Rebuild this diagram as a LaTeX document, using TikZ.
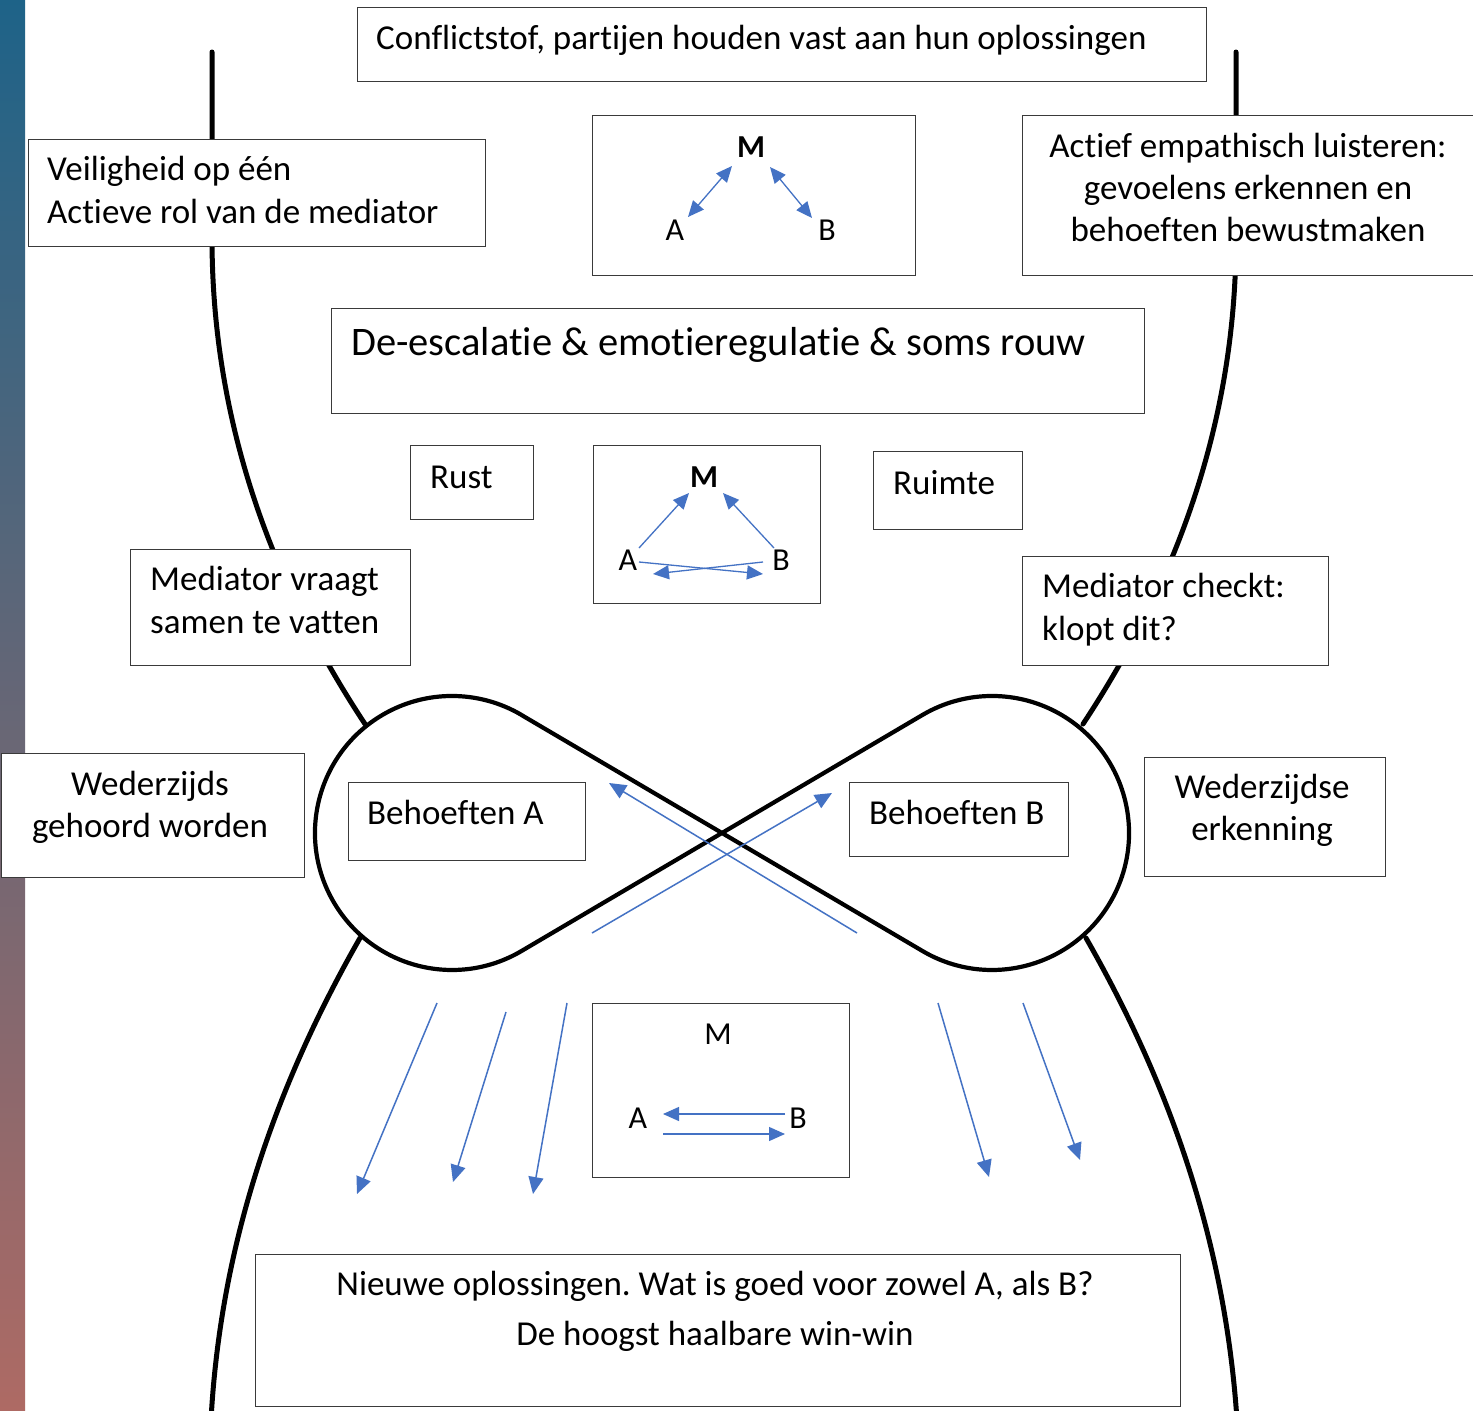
\documentclass[tikz,border=0pt]{standalone}
\usepackage{fontspec}
\setmainfont[Ligatures=NoCommon]{Carlito}
\usetikzlibrary{arrows.meta}
\definecolor{arrblue}{HTML}{4472C4}
\definecolor{boxline}{HTML}{3A3A3A}
\definecolor{gtop}{HTML}{1E6388}
\definecolor{gmid}{HTML}{686480}
\definecolor{gbot}{HTML}{AE6A64}
\begin{document}
\frenchspacing
\begin{tikzpicture}[x=1pt,y=-1pt,
  bx/.style={draw=boxline, line width=1.3pt, fill=white, inner sep=0pt, anchor=north west},
  tx/.style={inner sep=0pt, font=\fontsize{35}{43}\selectfont},
  bigtx/.style={inner sep=0pt, font=\fontsize{40.5}{48}\selectfont},
  lettr/.style={inner sep=0pt, anchor=base, font=\fontsize{32}{36}\selectfont},
  outerline/.style={line width=5pt, black, line cap=round},
  loopline/.style={line width=4.2pt, black, line join=round},
  barr/.style={draw=arrblue, line width=1.5pt, -{Triangle[length=17pt,width=15pt]}},
  tarr/.style={draw=arrblue, line width=1.3pt, -{Triangle[length=16pt,width=14pt]}},
  darr/.style={draw=arrblue, line width=1.3pt, {Triangle[length=16pt,width=14pt]}-{Triangle[length=16pt,width=14pt]}}
]
\useasboundingbox (0,0) rectangle (1473,1411);
\fill[white] (0,0) rectangle (1473,1411);
\shade[top color=gtop, middle color=gmid, bottom color=gbot] (0,0) rectangle (25,1411);

% outer hourglass curves
\draw[outerline] (212,52) -- (212,238) .. controls (212,406) and (262,568) .. (365,724);
\draw[outerline] (1236,52) -- (1236,238) .. controls (1236,406) and (1186,568) .. (1083,724);
\draw[outerline] (360,938) .. controls (269,1097) and (220,1255) .. (211,1420);
\draw[outerline] (1086,938) .. controls (1177,1097) and (1226,1255) .. (1237,1420);

% figure eight
\draw[loopline] (521.5,715) -- (922.5,951) arc[start angle=120.5, end angle=-120.5, radius=137]
  -- (521.5,951) arc[start angle=59.5, end angle=300.5, radius=137] -- cycle;

% boxes
\node[bx, minimum width=849pt, minimum height=74pt] (bconf) at (357,7) {};
\node[bx, minimum width=457pt, minimum height=107pt] (bveil) at (28,139) {};
\node[bx, minimum width=323pt, minimum height=160pt] (btria) at (592,115) {};
\node[bx, minimum width=460pt, minimum height=160pt] (bactief) at (1022,115) {};
\node[bx, minimum width=813pt, minimum height=105pt] (bdeesc) at (331,308) {};
\node[bx, minimum width=123pt, minimum height=74pt] (brust) at (410,445) {};
\node[bx, minimum width=227pt, minimum height=158pt] (btrib) at (593,445) {};
\node[bx, minimum width=149pt, minimum height=78pt] (bruimte) at (873,451) {};
\node[bx, minimum width=280pt, minimum height=116pt] (bmedvr) at (130,549) {};
\node[bx, minimum width=306pt, minimum height=109pt] (bmedch) at (1022,556) {};
\node[bx, minimum width=303pt, minimum height=124pt] (bwedg) at (1,753) {};
\node[bx, minimum width=237pt, minimum height=78pt] (bbehA) at (348,782) {};
\node[bx, minimum width=219pt, minimum height=74pt] (bbehB) at (849,782) {};
\node[bx, minimum width=241pt, minimum height=119pt] (bwede) at (1144,757) {};
\node[bx, minimum width=257pt, minimum height=174pt] (btric) at (592,1003) {};
\node[bx, minimum width=925pt, minimum height=152pt] (bnieuw) at (255,1254) {};

% texts (multi-line nodes are anchored at the baseline of their last line)
\node[tx, anchor=base west] (tconf) at (376,49) {Conflictstof, partijen houden vast aan hun oplossingen};
\node[tx, anchor=base west, align=left] (tveil) at (47,223) {Veiligheid op één\\Actieve rol van de mediator};
\node[tx, anchor=base, align=center, font=\fontsize{35}{42}\selectfont] (tactief) at (1248,241) {Actief empathisch luisteren:\\gevoelens erkennen en\\behoeften bewustmaken};
\node[bigtx, anchor=base west] (tdeesc) at (351,355) {De-escalatie \& emotieregulatie \& soms rouw};
\node[tx, anchor=base west] (trust) at (430,488) {Rust};
\node[tx, anchor=base west] (truimte) at (893,494) {Ruimte};
\node[tx, anchor=base west, align=left] (tmedvr) at (150,633) {Mediator vraagt\\samen te vatten};
\node[tx, anchor=base west, align=left] (tmedch) at (1042,640) {Mediator checkt:\\klopt dit?};
\node[tx, anchor=base, align=center, font=\fontsize{35}{42}\selectfont] (twedg) at (150,837) {Wederzijds\\gehoord worden};
\node[tx, anchor=base west] (tbehA) at (367,824) {Behoeften A};
\node[tx, anchor=base west] (tbehB) at (869,824) {Behoeften B};
\node[tx, anchor=base, align=center, font=\fontsize{35}{42}\selectfont] (twede) at (1262,840) {Wederzijdse\\erkenning};
\node[tx, anchor=base, align=center, font=\fontsize{35}{50}\selectfont] (tnieuw) at (715,1345) {Nieuwe oplossingen. Wat is goed voor zowel A, als B?\\De hoogst haalbare win-win};

% triangle 1
\node[lettr, font=\fontsize{32}{36}\selectfont\bfseries] (m1) at (751,157) {M};
\node[lettr] (a1) at (675,240) {A};
\node[lettr] (b1) at (827,240) {B};
\coordinate (a1e) at (688,217); \coordinate (m1a) at (732,166);
\coordinate (m1b) at (770,167); \coordinate (b1e) at (812,218);
\draw[darr] (a1e) -- (m1a);
\draw[darr] (m1b) -- (b1e);

% triangle 2
\node[lettr, font=\fontsize{32}{36}\selectfont\bfseries] (m2) at (704,487) {M};
\node[lettr] (a2) at (628,570) {A};
\node[lettr] (b2) at (781,570) {B};
\coordinate (a2s) at (639,548); \coordinate (m2a) at (689,493);
\coordinate (b2s) at (774,548); \coordinate (m2b) at (723,493);
\draw[tarr] (a2s) -- (m2a);
\draw[tarr] (b2s) -- (m2b);
\coordinate (a2r) at (639,562); \coordinate (b2t) at (763,574);
\coordinate (b2l) at (763,562); \coordinate (a2t) at (653,574);
\draw[tarr] (a2r) -- (b2t);
\draw[tarr] (b2l) -- (a2t);

% triangle 3
\node[lettr] (m3) at (718,1044) {M};
\node[lettr] (a3) at (638,1128) {A};
\node[lettr] (b3) at (798,1128) {B};
\coordinate (b3s) at (785,1114); \coordinate (a3t) at (663,1114);
\coordinate (a3s) at (663,1134); \coordinate (b3t) at (785,1134);
\draw[tarr] (b3s) -- (a3t);
\draw[tarr] (a3s) -- (b3t);

% crossing arrows
\coordinate (xa1) at (857,933); \coordinate (xa2) at (609,783);
\coordinate (xb1) at (592,933); \coordinate (xb2) at (832,793);
\draw[barr] (xa1) -- (xa2);
\draw[barr] (xb1) -- (xb2);

% bottom arrows
\coordinate (d1s) at (437,1003); \coordinate (d1e) at (357,1194);
\coordinate (d2s) at (506,1012); \coordinate (d2e) at (453,1182);
\coordinate (d3s) at (567,1003); \coordinate (d3e) at (533,1194);
\coordinate (d4s) at (938,1003); \coordinate (d4e) at (989,1177);
\coordinate (d5s) at (1023,1003); \coordinate (d5e) at (1080,1160);
\draw[barr] (d1s) -- (d1e);
\draw[barr] (d2s) -- (d2e);
\draw[barr] (d3s) -- (d3e);
\draw[barr] (d4s) -- (d4e);
\draw[barr] (d5s) -- (d5e);
\end{tikzpicture}
\end{document}
